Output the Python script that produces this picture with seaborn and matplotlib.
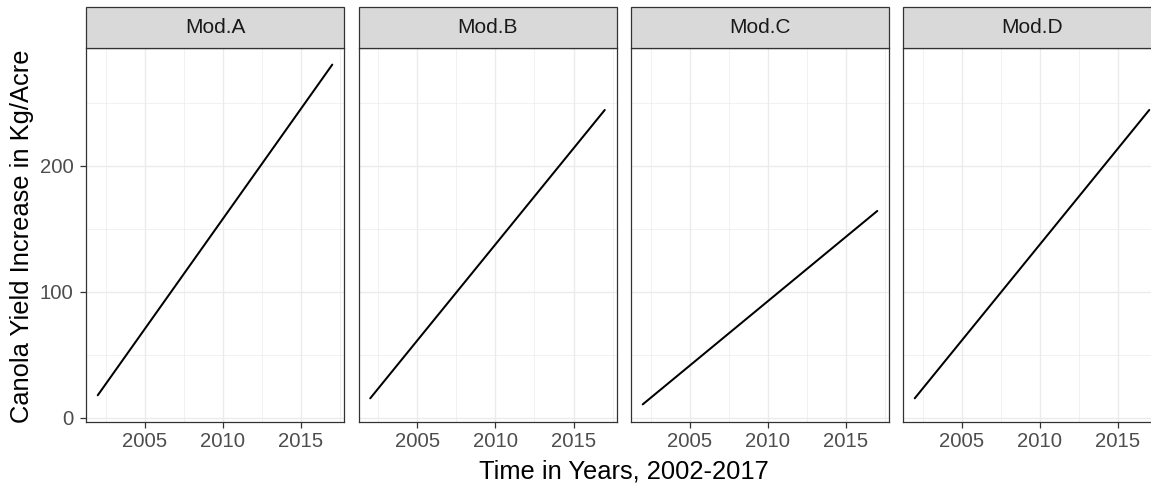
import matplotlib
matplotlib.use("Agg")
import matplotlib.pyplot as plt
from matplotlib.patches import Rectangle
from matplotlib.ticker import FixedLocator
import seaborn as sns
import pandas as pd

# ---- data ----
models = ["Mod.A", "Mod.B", "Mod.C", "Mod.D"]
years = [2002, 2017]
mod_a = [17.7, 280.3]
mod_b = [15.3, 244.3]
mod_c = [10.5, 164.1]
mod_d = [15.3, 244.3]
x_ticks = [2005, 2010, 2015]
y_ticks = [0, 100, 200]
x_label = "Time in Years, 2002-2017"
y_label = "Canola Yield Increase in Kg/Acre"

series = {"Mod.A": mod_a, "Mod.B": mod_b, "Mod.C": mod_c, "Mod.D": mod_d}
df = pd.DataFrame(
    [{"model": m, "year": y, "value": v}
     for m in models for y, v in zip(years, series[m])]
)

sns.set_theme(style="white")
plt.rcParams["font.family"] = ["Liberation Sans", "DejaVu Sans"]

g = sns.relplot(data=df, x="year", y="value", col="model", col_order=models,
                kind="line", color="black", linewidth=1.45,
                facet_kws=dict(sharex=True, sharey=True, despine=False))

W, H = 1151, 486
fig = g.figure
fig.set_size_inches(W / 100, H / 100)
fig.set_dpi(100)
fig.patch.set_facecolor("white")

lefts = [86, 358.5, 631, 903]
pw = 258
top_px, bot_px = 48, 422
strip_h = 41
ph = bot_px - top_px

for i, (ax, m) in enumerate(zip(g.axes.flat, models)):
    ax.set_position([lefts[i] / W, 1 - bot_px / H, pw / W, ph / H])
    ax.set_title("")
    ax.set_xlabel("")
    ax.set_ylabel("")
    ax.set_xlim(2001.25, 2017.75)
    ax.set_ylim(-3.5, 293.5)
    ax.xaxis.set_major_locator(FixedLocator(x_ticks))
    ax.yaxis.set_major_locator(FixedLocator(y_ticks))
    ax.xaxis.set_minor_locator(FixedLocator([2002.5, 2007.5, 2012.5, 2017.5]))
    ax.yaxis.set_minor_locator(FixedLocator([50, 150, 250]))
    ax.set_facecolor("white")
    ax.grid(True, which="major", color="#EBEBEB", linewidth=1.0)
    ax.grid(True, which="minor", color="#EBEBEB", linewidth=0.5)
    ax.set_axisbelow(True)
    for sp in ax.spines.values():
        sp.set_color("#333333")
        sp.set_linewidth(0.9)
        sp.set_visible(True)
    ax.tick_params(axis="both", which="major", length=4.3, width=0.9,
                   color="#333333", labelcolor="#4D4D4D", labelsize=14.6,
                   bottom=True, left=(i == 0))
    ax.tick_params(axis="x", which="major", pad=3.0)
    ax.tick_params(axis="y", which="major", pad=4.8)
    ax.tick_params(axis="both", which="minor", length=0)
    if i == 0:
        ax.set_yticklabels([str(t) for t in y_ticks])
    else:
        ax.tick_params(axis="y", labelleft=False)
    ax.set_xticklabels([str(t) for t in x_ticks])
    # facet strip
    sh = strip_h / ph
    ax.add_patch(Rectangle((0, 1), 1, sh, transform=ax.transAxes,
                           facecolor="#D9D9D9", edgecolor="#333333",
                           linewidth=0.9, clip_on=False, zorder=5))
    ax.text(0.5, 1 + sh / 2, m, transform=ax.transAxes, ha="center",
            va="center", fontsize=15, color="#1A1A1A", zorder=6)

fig.text(623.5 / W, 1 - 471 / H, x_label, ha="center", va="center",
         fontsize=18.4, color="black")
fig.text(22 / W, 1 - 236 / H, y_label, ha="center", va="center",
         rotation=90, fontsize=18.4, color="black")

fig.savefig("out.png", dpi=100, facecolor="white")
